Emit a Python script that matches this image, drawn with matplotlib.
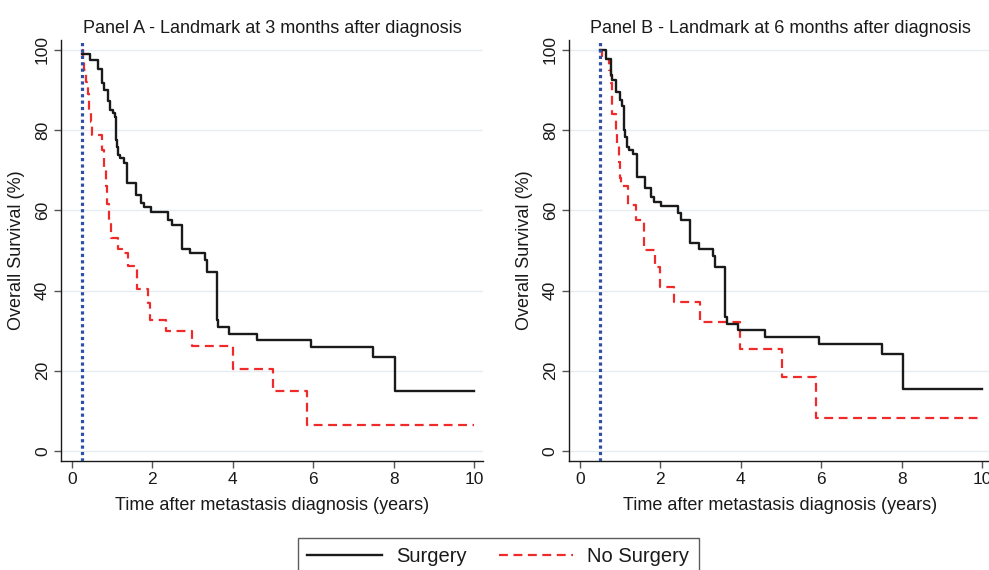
import matplotlib
matplotlib.use("Agg")
import matplotlib.pyplot as plt
from matplotlib.lines import Line2D

plt.rcParams['font.family'] = ['Liberation Sans', 'DejaVu Sans']

# Panel A - landmark at 3 months
a_surg_t = [0.25, 0.45, 0.66, 0.74, 0.80, 0.89, 0.94, 1.03, 1.07, 1.09, 1.11, 1.15, 1.19, 1.30, 1.38, 1.59,
            1.73, 1.80, 1.97, 2.40, 2.50, 2.73, 2.93, 3.30, 3.35, 3.60, 3.64, 3.90, 4.59, 5.94, 7.48, 8.02, 10.0]
a_surg_s = [99.0, 97.5, 95.2, 91.7, 90.0, 87.3, 85.0, 84.4, 83.4, 77.5, 75.9, 73.8, 73.0, 71.9, 66.8, 63.8,
            61.8, 60.8, 59.6, 57.6, 56.3, 50.5, 49.5, 47.6, 44.7, 32.7, 31.0, 29.3, 27.8, 26.0, 23.5, 15.1, 15.1]
a_nosurg_t = [0.25, 0.28, 0.31, 0.35, 0.39, 0.43, 0.47, 0.50, 0.76, 0.80, 0.84, 0.88, 0.92, 0.97, 1.14,
              1.25, 1.40, 1.62, 1.88, 1.95, 2.34, 2.98, 4.00, 5.00, 5.85, 10.0]
a_nosurg_s = [100, 97, 95, 92, 89, 85, 82, 78.8, 75, 70, 66, 61.5, 57, 53, 50.3,
              49.5, 46.2, 40.4, 37, 32.8, 30.0, 26.3, 20.4, 14.9, 6.6, 6.6]

# Panel B - landmark at 6 months
b_surg_t = [0.5, 0.65, 0.77, 0.81, 0.90, 1.00, 1.04, 1.06, 1.10, 1.13, 1.17, 1.23, 1.31, 1.42, 1.62, 1.77,
            1.85, 2.02, 2.43, 2.51, 2.74, 2.97, 3.32, 3.37, 3.61, 3.66, 3.92, 4.60, 5.95, 7.50, 8.03, 10.0]
b_surg_s = [100, 97.7, 93.8, 92.5, 89.6, 87.5, 86.7, 85.9, 80.0, 78.4, 75.9, 75.0, 74.0, 68.4, 65.5, 63.4,
            62.2, 61.1, 59.3, 57.6, 51.9, 50.5, 48.6, 45.8, 33.5, 31.8, 30.1, 28.5, 26.7, 24.1, 15.4, 15.4]
b_nosurg_t = [0.5, 0.56, 0.72, 0.77, 0.79, 0.91, 0.93, 0.97, 1.00, 1.02, 1.20, 1.39, 1.60, 1.87, 1.99,
              2.35, 2.99, 3.99, 5.02, 5.87, 10.0]
b_nosurg_s = [100, 97.7, 95, 91.8, 84.0, 80, 76, 72, 68, 66.1, 61.4, 57.5, 50.1, 46, 40.8,
              37.2, 32.2, 25.4, 18.4, 8.3, 8.3]

landmarks = [0.25, 0.5]
titles = ["Panel A - Landmark at 3 months after diagnosis",
          "Panel B - Landmark at 6 months after diagnosis"]
xticks = [0, 2, 4, 6, 8, 10]
yticks = [0, 20, 40, 60, 80, 100]

txt = '#1a1a1a'
fig = plt.figure(figsize=(9.89, 5.70), dpi=100)
ax1 = fig.add_axes([0.0617, 0.191, 0.4267, 0.739])
ax2 = fig.add_axes([0.5753, 0.191, 0.4267, 0.739])

panels = [(ax1, a_surg_t, a_surg_s, a_nosurg_t, a_nosurg_s),
          (ax2, b_surg_t, b_surg_s, b_nosurg_t, b_nosurg_s)]

for i, (ax, st, ss, nt, ns) in enumerate(panels):
    for y in yticks:
        ax.axhline(y, color='#e6edf2', lw=1.0, zorder=0)
    ax.step(st, ss, where='post', color='#1a1a1a', lw=1.7, zorder=3)
    ax.step(nt, ns, where='post', color='#ee2a2a', lw=1.6, linestyle=(0, (4, 2.5)), zorder=2)
    ax.axvline(landmarks[i], color='#2f4ea6', lw=2.3, linestyle=(0, (1, 1)), zorder=4)

    ax.set_xlim(-0.27, 10.22)
    ax.set_ylim(-2.5, 102.5)
    ax.set_xticks(xticks)
    ax.set_yticks(yticks)
    ax.set_yticklabels([str(v) for v in yticks], rotation=90, va='center')
    ax.tick_params(axis='both', direction='out', length=5, width=1, color='#555555',
                   labelsize=12.5, labelcolor=txt, pad=3)
    for s in ['top', 'right']:
        ax.spines[s].set_visible(False)
    for s in ['left', 'bottom']:
        ax.spines[s].set_color('#1a1a1a')
        ax.spines[s].set_linewidth(1.0)
    ax.set_title(titles[i], fontsize=13, color=txt, pad=5)
    ax.set_xlabel("Time after metastasis diagnosis (years)", fontsize=13, color=txt, labelpad=7)
    ax.set_ylabel("Overall Survival (%)", fontsize=13, color=txt, labelpad=7)

handles = [Line2D([], [], color='#1a1a1a', lw=1.7),
           Line2D([], [], color='#ee2a2a', lw=1.6, linestyle=(0, (4, 2.5)))]
leg = fig.legend(handles, ["Surgery", "No Surgery"], loc='upper center', bbox_to_anchor=(0.504, 0.0561),
                 ncol=2, fontsize=14.5, frameon=True, fancybox=False, handlelength=3.7,
                 handletextpad=0.7, columnspacing=1.6, borderpad=0.45, borderaxespad=0)
leg.get_frame().set_edgecolor('#333333')
leg.get_frame().set_linewidth(1.0)
for t in leg.get_texts():
    t.set_color(txt)

fig.savefig('out.png', dpi=100)
